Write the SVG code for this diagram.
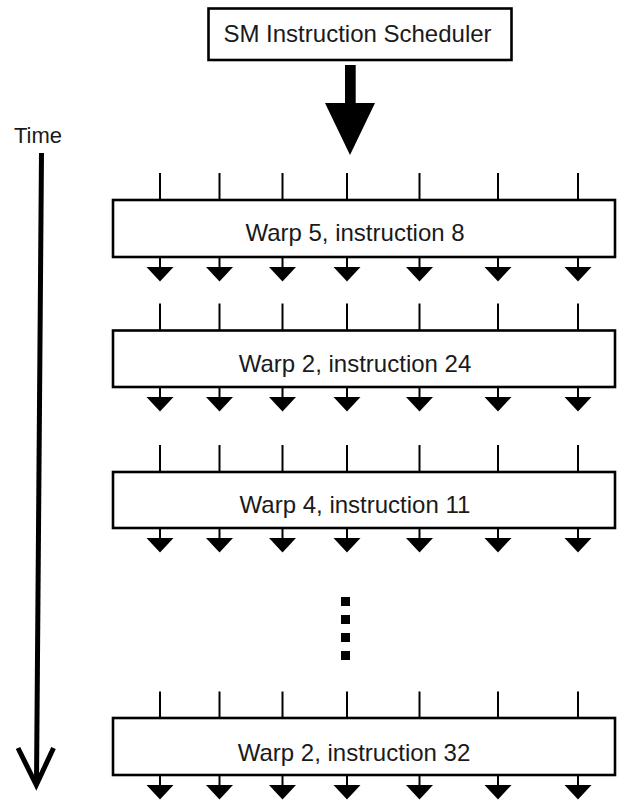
<svg xmlns="http://www.w3.org/2000/svg" width="617" height="806" viewBox="0 0 617 806">
  <style>
    .box { fill: #ffffff; stroke: #000000; stroke-width: 2.6; }
    .label { font-family: "Liberation Sans", Arial, sans-serif; font-size: 24px; fill: #1a1a1a; text-anchor: middle; }
    .tick { stroke: #000000; stroke-width: 2; fill: none; }
    .lane { fill: #000000; }
    .time { stroke: #000000; stroke-width: 5; fill: none; }
  </style>
  <defs>
    <!-- one input tick above a warp box -->
    <line id="tickIn" class="tick" x1="0" y1="0" x2="0" y2="27"/>
    <!-- one output arrow below a warp box: short shaft + filled head -->
    <g id="laneOut">
      <line class="tick" x1="0" y1="0" x2="0" y2="11"/>
      <polygon class="lane" points="-13.5,10 13.5,10 0,24.5"/>
    </g>
    <!-- row of 7 lanes -->
    <g id="ticksRow">
      <use href="#tickIn" x="160"/>
      <use href="#tickIn" x="219.5"/>
      <use href="#tickIn" x="282.5"/>
      <use href="#tickIn" x="347"/>
      <use href="#tickIn" x="419.5"/>
      <use href="#tickIn" x="498"/>
      <use href="#tickIn" x="578"/>
    </g>
    <g id="outRow">
      <use href="#laneOut" x="160"/>
      <use href="#laneOut" x="219.5"/>
      <use href="#laneOut" x="282.5"/>
      <use href="#laneOut" x="347"/>
      <use href="#laneOut" x="419.5"/>
      <use href="#laneOut" x="498"/>
      <use href="#laneOut" x="578"/>
    </g>
  </defs>

  <!-- scheduler -->
  <g id="scheduler">
    <rect class="box" x="208.5" y="8.5" width="303" height="51.5" stroke-width="3"/>
    <text class="label" x="357.5" y="41.5">SM Instruction Scheduler</text>
  </g>

  <!-- time axis -->
  <g id="time-axis">
    <text x="14" y="143" font-family="Liberation Sans, Arial, sans-serif" font-size="22" fill="#1a1a1a">Time</text>
  </g>

  <g id="connectors">
    <!-- issue arrow from scheduler -->
    <polygon fill="#000000" points="345,65 355.7,65 355.7,103 375,103 350,155 325,103 345,103"/>
    <!-- time arrow -->
    <line class="time" x1="41.5" y1="153" x2="36.5" y2="783"/>
    <polyline class="time" points="18,748 36.3,785 53.5,748" stroke-linejoin="miter"/>
    <!-- lanes in/out of each warp -->
    <use href="#ticksRow" y="173"/>
    <use href="#outRow" y="257"/>
    <use href="#ticksRow" y="303.5"/>
    <use href="#outRow" y="387"/>
    <use href="#ticksRow" y="445"/>
    <use href="#outRow" y="528"/>
    <use href="#ticksRow" y="691.5"/>
    <use href="#outRow" y="775"/>
  </g>

  <!-- warp instructions -->
  <g id="warp5-i8">
    <rect class="box" x="113" y="200" width="502" height="57"/>
    <text class="label" x="355" y="241">Warp 5, instruction 8</text>
  </g>
  <g id="warp2-i24">
    <rect class="box" x="113" y="330.5" width="502" height="56.5"/>
    <text class="label" x="355" y="372">Warp 2, instruction 24</text>
  </g>
  <g id="warp4-i11">
    <rect class="box" x="113" y="472" width="502" height="56"/>
    <text class="label" x="355" y="513">Warp 4, instruction 11</text>
  </g>

  <!-- ellipsis -->
  <g id="ellipsis" fill="#000000">
    <rect x="341" y="597" width="9" height="9"/>
    <rect x="341" y="615" width="9" height="9"/>
    <rect x="341" y="633" width="9" height="9"/>
    <rect x="341" y="651" width="9" height="9"/>
  </g>

  <g id="warp2-i32">
    <rect class="box" x="113" y="718" width="502" height="57"/>
    <text class="label" x="354" y="761">Warp 2, instruction 32</text>
  </g>
</svg>
